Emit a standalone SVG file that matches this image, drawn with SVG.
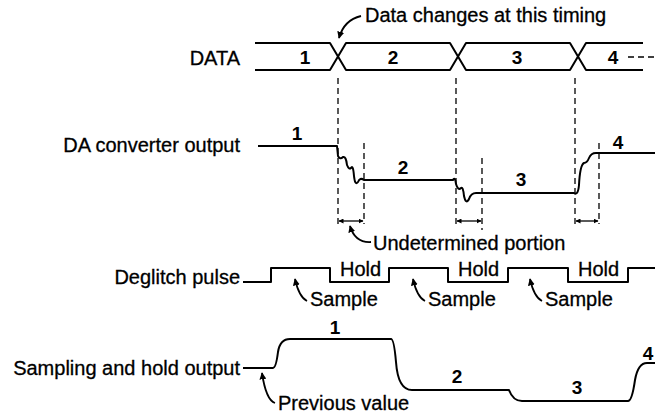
<svg xmlns="http://www.w3.org/2000/svg" width="655" height="414" viewBox="0 0 655 414">
<style>
text{font-family:"Liberation Sans",Arial,sans-serif;font-size:20px;fill:#000;stroke:#000;stroke-width:0.3}
.lbl{text-anchor:end}
.num{text-anchor:middle;font-size:19px;font-weight:bold;stroke-width:0}
.w{fill:none;stroke:#000;stroke-width:2;stroke-linejoin:round}
.d{fill:none;stroke:#000;stroke-width:1.3;stroke-dasharray:6,4}
.a{fill:none;stroke:#000;stroke-width:1.8;marker-end:url(#ah)}
.dim{fill:none;stroke:#000;stroke-width:1.3;marker-start:url(#sm);marker-end:url(#sm)}
</style>
<defs>
<marker id="ah" viewBox="0 0 10 10" refX="9" refY="5" markerWidth="7" markerHeight="7" markerUnits="userSpaceOnUse" orient="auto"><path d="M0,0 L10,5 L0,10 z"/></marker>
<marker id="sm" viewBox="0 0 10 10" refX="9" refY="5" markerWidth="5" markerHeight="5" markerUnits="userSpaceOnUse" orient="auto-start-reverse"><path d="M0,0 L10,5 L0,10 z"/></marker>
</defs>
<g id="labels">
<text class="lbl" x="240" y="65">DATA</text>
<text class="lbl" x="240" y="152">DA converter output</text>
<text class="lbl" x="240" y="284">Deglitch pulse</text>
<text class="lbl" x="240" y="375">Sampling and hold output</text>
</g>
<g id="data">
<path class="w" d="M255,43 H330 L346,70 H450 L466,43 H570 L586,70 H643"/>
<path class="w" d="M255,70 H330 L346,43 H450 L466,70 H570 L586,43 H643"/>
<path class="d" d="M628,57 H655"/>
<text class="num" x="305" y="64">1</text>
<text class="num" x="393" y="64">2</text>
<text class="num" x="517" y="64">3</text>
<text class="num" x="613" y="64">4</text>
</g>
<g id="note-data">
<text x="365" y="22">Data changes at this timing</text>
<path class="a" d="M361,16 Q344,20 339,38"/>
</g>
<g id="connectors">
<path class="d" d="M338,78 V224"/>
<path class="d" d="M364,143 V224"/>
<path class="d" d="M456,78 V224"/>
<path class="d" d="M482,158 V230"/>
<path class="d" d="M575,78 V224"/>
<path class="d" d="M599,143 V224"/>
<path class="dim" d="M339,221 H363"/>
<path class="dim" d="M457,221 H481"/>
<path class="dim" d="M576,221 H598"/>
</g>
<g id="da-output">
<path class="w" d="M258,146 H337 L338,156 Q340,160 343,157 Q346,156 347,165 Q349,170 351,168 Q353,164 354,176 Q355,186 358,182 Q360,177 364,180 H453 Q455,176 456,184 Q458,191 461,188 Q463,186 464,196 Q466,205 469,199 Q471,193 476,193 H574 Q578,196 579,185 Q580,165 584,163 Q587,163 589,158 Q591,153 596,153 H655"/>
<text class="num" x="297" y="140">1</text>
<text class="num" x="403" y="174">2</text>
<text class="num" x="521" y="186">3</text>
<text class="num" x="618" y="149">4</text>
</g>
<g id="note-undetermined">
<text x="373" y="250">Undetermined portion</text>
<path class="a" d="M371,242 Q355,243 350,226"/>
</g>
<g id="deglitch">
<path class="w" d="M243,282 H271 V268 H330 V282 H389 V268 H448 V282 H508 V268 H568 V282 H628 V268 H655"/>
<text x="340" y="276">Hold</text>
<text x="458" y="276">Hold</text>
<text x="578" y="276">Hold</text>
<text x="310" y="306">Sample</text>
<text x="428" y="306">Sample</text>
<text x="545" y="306">Sample</text>
<path class="a" d="M307,301 Q299,297 295,279"/>
<path class="a" d="M425,301 Q417,297 413,279"/>
<path class="a" d="M542,301 Q534,297 530,279"/>
</g>
<g id="sh-output">
<path class="w" d="M243,368 H273 Q276,368 278,352 Q280,339 290,339 H391 Q394,339 396,362 Q398,390 412,390 H509 Q513,401 522,401 H628 Q632,401 635,380 Q638,363 647,363 H655"/>
<text class="num" x="335" y="334">1</text>
<text class="num" x="457" y="383">2</text>
<text class="num" x="577" y="394">3</text>
<text class="num" x="648" y="360">4</text>
</g>
<g id="note-previous">
<text x="278" y="410">Previous value</text>
<path class="a" d="M275,403 Q266,400 262,373"/>
</g>
</svg>
